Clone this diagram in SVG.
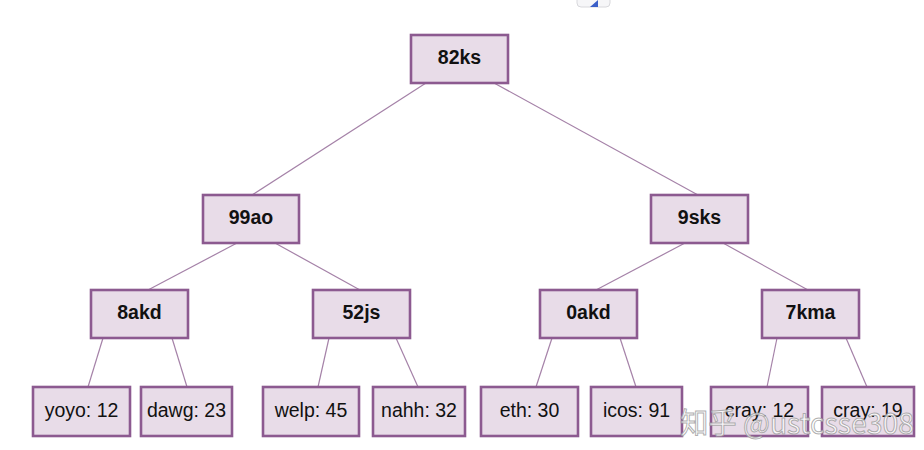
<svg xmlns="http://www.w3.org/2000/svg" width="924" height="450" viewBox="0 0 924 450">
<style>
.box{fill:#e8dce8;stroke:#8c5a90;stroke-width:2.6}
.t{font-family:"Liberation Sans",Arial,sans-serif;font-size:19.5px;fill:#111;text-anchor:middle}
.b{font-weight:bold}
.c line{stroke:#a582a8;stroke-width:1.2}
.wm{font-family:"Noto Sans CJK SC","Liberation Sans",sans-serif;font-size:29px;fill:#ffffff;fill-opacity:0.75;stroke:#9a9a9a;stroke-width:1;stroke-opacity:0.8}
</style>
<rect width="924" height="450" fill="#ffffff"/>
<rect x="577" y="-10" width="33" height="17" rx="4" fill="#f6f6f8" stroke="#d8d8dc"/>
<path d="M590 7 L598 0 L598 7 Z" fill="#3a5fc8"/>
<g class="c" id="connectors">
<line x1="426" y1="83" x2="252" y2="195"/>
<line x1="494" y1="83" x2="698" y2="195"/>
<line x1="237" y1="243" x2="148" y2="290"/>
<line x1="275" y1="243" x2="360" y2="290"/>
<line x1="685" y1="243" x2="596" y2="290"/>
<line x1="723" y1="243" x2="808" y2="290"/>
<line x1="103" y1="338" x2="88" y2="387"/>
<line x1="172" y1="338" x2="187" y2="387"/>
<line x1="329" y1="338" x2="318" y2="387"/>
<line x1="396" y1="338" x2="418" y2="387"/>
<line x1="552" y1="338" x2="536" y2="387"/>
<line x1="620" y1="338" x2="636" y2="387"/>
<line x1="777" y1="338" x2="767" y2="387"/>
<line x1="846" y1="338" x2="867" y2="387"/>
</g>
<g id="n82ks"><rect class="box" x="411" y="35" width="97" height="48"/><text class="t b" x="459.5" y="63.5">82ks</text></g>
<g id="n99ao"><rect class="box" x="203" y="195" width="96" height="48"/><text class="t b" x="251" y="223.5">99ao</text></g>
<g id="n9sks"><rect class="box" x="651" y="195" width="97" height="48"/><text class="t b" x="699.5" y="223.5">9sks</text></g>
<g id="n8akd"><rect class="box" x="91" y="290" width="97" height="48"/><text class="t b" x="139.5" y="318.5">8akd</text></g>
<g id="n52js"><rect class="box" x="313" y="290" width="97" height="48"/><text class="t b" x="361.5" y="318.5">52js</text></g>
<g id="n0akd"><rect class="box" x="540" y="290" width="97" height="48"/><text class="t b" x="588.5" y="318.5">0akd</text></g>
<g id="n7kma"><rect class="box" x="762" y="290" width="97" height="48"/><text class="t b" x="810.5" y="318.5">7kma</text></g>
<g id="yoyo"><rect class="box" x="33" y="387" width="97" height="49"/><text class="t" x="81.5" y="416.5">yoyo: 12</text></g>
<g id="dawg"><rect class="box" x="141" y="387" width="91" height="49"/><text class="t" x="186.5" y="416.5">dawg: 23</text></g>
<g id="welp"><rect class="box" x="263" y="387" width="96" height="49"/><text class="t" x="311" y="416.5">welp: 45</text></g>
<g id="nahh"><rect class="box" x="373" y="387" width="92" height="49"/><text class="t" x="419" y="416.5">nahh: 32</text></g>
<g id="eth"><rect class="box" x="481" y="387" width="97" height="49"/><text class="t" x="529.5" y="416.5">eth: 30</text></g>
<g id="icos"><rect class="box" x="591" y="387" width="91" height="49"/><text class="t" x="636.5" y="416.5">icos: 91</text></g>
<g id="cray12"><rect class="box" x="711" y="387" width="97" height="49"/><text class="t" x="759.5" y="416.5">cray: 12</text></g>
<g id="cray19"><rect class="box" x="822" y="387" width="92" height="49"/><text class="t" x="868" y="416.5">cray: 19</text></g>
<text class="wm" x="680" y="434" textLength="234" lengthAdjust="spacingAndGlyphs">知乎 @ustcsse308</text>
</svg>
